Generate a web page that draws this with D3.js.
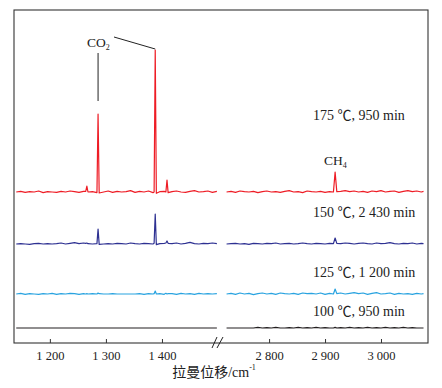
<!DOCTYPE html>
<html><head><meta charset="utf-8">
<script src="https://cdn.jsdelivr.net/npm/d3@7"></script>
<style>body{margin:0;background:#fff}svg{display:block}</style>
</head><body><svg id="c" width="442" height="388"></svg>
<script>
// ---- data ----
const seriesNames = ["100 ℃, 950 min","125 ℃, 1 200 min","150 ℃, 2 430 min","175 ℃, 950 min"];
const seriesColors = ["#231f20","#29a3e0","#2e3192","#ee1c25"];
const seriesOffsets = [45,147,297,453];
const leftX = [1140,1148,1156,1164,1172,1180,1188,1196,1204,1212,1220,1228,1236,1244,1252,1260,
  1264,1266,1268,1276,1284,1286,1288,
  1296,1304,1312,1320,1328,1336,1344,1352,1360,1368,1376,1384,
  1386,1388,1390,1396,1404,1407,1409,1411,
  1418,1426,1434,1442,1450,1458,1466,1474,1482,1490,1498];
const rightX = [2724,2732,2740,2748,2756,2764,2772,2780,2788,2796,2804,2812,2820,2828,2836,2844,2852,2860,2868,2876,2884,2892,2900,2908,
  2915,2918,2921,
  2928,2936,2944,2952,2960,2968,2976,2984,2992,3000,3008,3016,3024,3032,3040,3048,3056,3064,3072,3076];
const blackL = [0,0,0,0,0,0,0,0,0,0,0,0,0,0,0,0, 0,0,0, 0,0,0,0, 0,0,0,0,0,0,0,0,0,0,0,0, 0,0,0, 0,0,0,0,0, 0,0,0,0,0,0,0,0,0,0,0];
const cyanL = [0,2,-1,1,0,-1,1,0,2,-1,1,0,2,1,-1,1, 0,1,0, 1,0,3,1, 0,0,1,0,0,0,0,0,1,-1,1,0, 1,9,0, 1,-1,2,0,1, 1,-1,2,0,1,-1,2,0,1,0,1];
const blueL = [0,1,0,-1,1,2,0,1,0,1,3,0,2,4,1,3, 2,3,1, 0,1,45,-1, 0,1,0,2,1,0,3,1,0,2,1,0, 2,90,-2, 1,2,3,9,2, 1,3,0,2,5,1,0,2,1,3,1];
const redL = [0,2,-1,1,0,3,-2,1,0,-1,2,0,3,1,-1,2, 2,18,0, 1,-2,234,-3, 0,3,-1,2,0,1,4,-1,2,0,3,-2, 0,426,-4, 1,2,0,36,-2, 1,3,0,-1,2,4,0,1,3,-1,2];
const blackR = [0,0,0,0,0,0,0,2,0,1,0,2,0,0,1,0,2,0,1,0,2,0,1,0, 0,2,0, 1,0,2,0,1,0,2,0,1,0,2,0,1,0,2,0,1,0,0,0];
const cyanR = [0,2,-1,3,0,2,-2,1,3,0,2,-1,3,1,0,2,-1,3,1,2,0,3,-1,2, 0,15,1, 3,0,2,4,1,3,-1,2,4,0,1,3,-1,2,0,1,-1,2,0,1];
const blueR = [0,1,2,0,1,-1,2,1,0,2,1,3,0,1,2,0,1,3,1,0,2,1,0,2, 1,18,2, 1,3,2,0,2,3,1,0,3,1,2,4,1,0,2,1,3,0,2,1];
const redR = [0,2,-1,3,1,0,2,-2,1,3,0,1,-1,2,4,0,1,-2,3,1,0,2,-1,1, 0,60,1, 2,4,1,3,0,2,-1,3,1,4,0,2,3,-1,2,4,1,3,0,2];
const leftValues = [blackL,cyanL,blueL,redL];
const rightValues = [blackR,cyanR,blueR,redR];
const leftTicks = [1200,1300,1400];
const rightTicks = [2800,2900,3000];
const xTitle = "拉曼位移/cm";

// ---- layout ----
const svg = d3.select("#c");
const L = 14, R = 428, T = 10, B = 343;
const xL = d3.scaleLinear().domain([1136,1500]).range([L,218]);
const xR = d3.scaleLinear().domain([2723,3084]).range([226,R]);
const y = d3.scaleLinear().domain([0,999]).range([B,T]);
const fmt = d3.formatLocale({decimal:".",thousands:" ",grouping:[3],currency:["",""]}).format(",d");
const serif = "'Liberation Serif','Times New Roman','Noto Sans CJK SC',serif";

function draw(xs, vals, sc){
  vals.forEach((v,i)=>{
    const pts = xs.map((w,j)=>[w, seriesOffsets[i]+v[j]]);
    svg.append("path").datum(pts)
      .attr("fill","none").attr("stroke",seriesColors[i]).attr("stroke-width",1.2)
      .attr("stroke-linejoin","round")
      .attr("d", d3.line().x(d=>sc(d[0])).y(d=>y(d[1])));
  });
}
draw(leftX,leftValues,xL);
draw(rightX,rightValues,xR);

// frame
svg.append("rect").attr("x",L).attr("y",T).attr("width",R-L).attr("height",B-T)
  .attr("fill","none").attr("stroke","#333").attr("stroke-width",1.1);

// axes
function axis(sc,ticks){
  const g = svg.append("g").attr("transform",`translate(0,${B})`)
    .call(d3.axisBottom(sc).tickValues(ticks).tickFormat(fmt).tickSizeInner(-4).tickSizeOuter(0).tickPadding(8));
  g.select(".domain").remove();
  g.selectAll(".tick line").attr("stroke","#333");
  g.selectAll("text").attr("font-family",serif).attr("font-size",12.5).attr("fill","#222");
}
axis(xL,leftTicks);
axis(xR,rightTicks);

// break marks
[[212,217],[217,223]].forEach(([a,b])=>{
  svg.append("line").attr("x1",a).attr("y1",348).attr("x2",b).attr("y2",337)
    .attr("stroke","#222").attr("stroke-width",1);
});

// x title
const xt = svg.append("text").attr("x",214).attr("y",377).attr("text-anchor","middle")
  .attr("font-family",serif).attr("font-size",14).attr("fill","#222");
xt.append("tspan").text(xTitle);
xt.append("tspan").attr("font-size",8).attr("dy",-7).text("-1");

// series labels
const labelY = [316,277,217,120];
seriesNames.forEach((s,i)=>{
  svg.append("text").attr("x",313).attr("y",labelY[i]).attr("font-family",serif)
    .attr("font-size",14).attr("fill","#222").text(s);
});

// CO2 annotation
const co = svg.append("text").attr("x",87).attr("y",47).attr("font-family",serif).attr("font-size",13.5).attr("fill","#222");
co.append("tspan").text("CO");
co.append("tspan").attr("font-size",8).attr("dy",3).text("2");
svg.append("line").attr("x1",xL(1286)).attr("x2",xL(1286)).attr("y1",53).attr("y2",101).attr("stroke","#222").attr("stroke-width",1);
svg.append("line").attr("x1",114).attr("y1",37).attr("x2",xL(1388)).attr("y2",49).attr("stroke","#222").attr("stroke-width",1);

// CH4 annotation
const ch = svg.append("text").attr("x",324).attr("y",165).attr("font-family",serif).attr("font-size",13.5).attr("fill","#222");
ch.append("tspan").text("CH");
ch.append("tspan").attr("font-size",8).attr("dy",3).text("4");
</script></body></html>
